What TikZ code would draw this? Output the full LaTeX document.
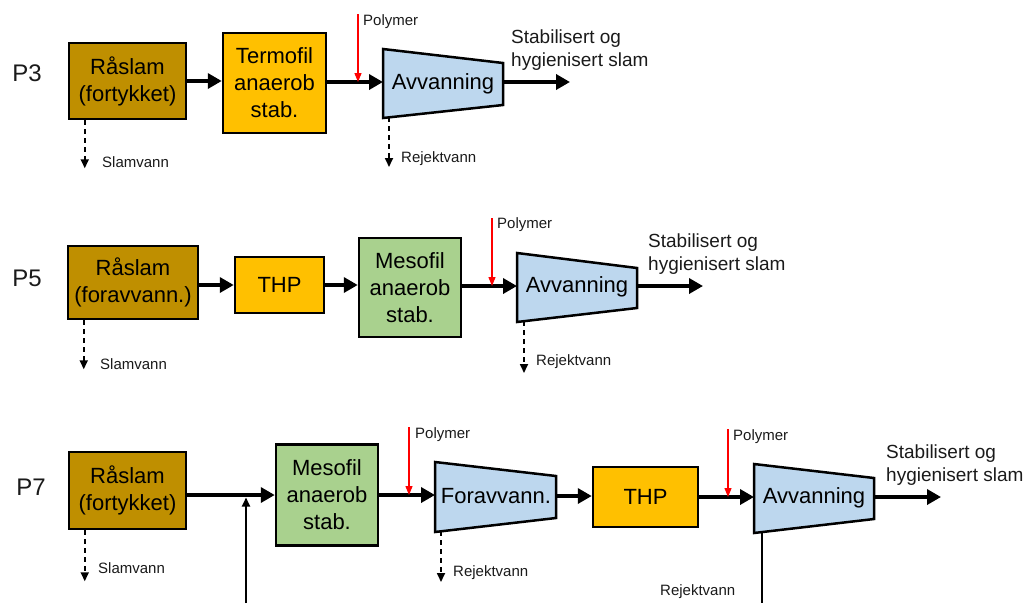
\documentclass[tikz,border=0pt]{standalone}
\usepackage{fontspec}
\setmainfont{Liberation Sans}
\usetikzlibrary{arrows.meta}
\definecolor{raw}{HTML}{BF8F00}
\definecolor{gold}{HTML}{FFC000}
\definecolor{meso}{HTML}{A9D18E}
\definecolor{dew}{HTML}{BDD7EE}
\definecolor{txt}{HTML}{1A1A1A}
\tikzset{
  procbox/.style={draw=black, line width=2.5pt, inner sep=0pt, align=center,
    font=\fontsize{22}{27}\selectfont, text=black},
  rawbox/.style={procbox, fill=raw},
  goldbox/.style={procbox, fill=gold},
  mesobox/.style={procbox, fill=meso},
  trap/.style={draw=black, line width=2.5pt, fill=dew, line join=miter},
  traptext/.style={font=\fontsize{22}{27}\selectfont, inner sep=0pt},
  flow/.style={line width=4.5pt, -{Triangle[length=14pt,width=15pt]}},
  poly/.style={red, line width=1.3pt, -{Triangle[length=9pt,width=7pt]}},
  drain/.style={black, line width=1.7pt, dash pattern=on 5pt off 4pt, -{Triangle[length=9pt,width=8pt]}},
  small/.style={font=\fontsize{15}{18}\selectfont, text=txt, inner sep=0pt, anchor=west},
  outlab/.style={font=\fontsize{19}{23}\selectfont, text=txt, inner sep=0pt, anchor=west, align=left},
  rowlab/.style={font=\fontsize{24}{28}\selectfont, text=txt, inner sep=0pt},
  uparrow/.style={line width=2pt, -{Triangle[length=9pt,width=8pt]}},
}
\begin{document}
\begin{tikzpicture}[x=1pt,y=-1pt]
\useasboundingbox (0,0) rectangle (1027,603);

% ---------------- P3 ----------------
\node[rowlab] (p3) at (27,73) {P3};
\node[rawbox, minimum width=117pt, minimum height=76pt] (ra3) at (127.5,81) {Råslam\\(fortykket)};
\node[goldbox, minimum width=103pt, minimum height=100pt] (te3) at (274.5,83) {Termofil\\anaerob\\stab.};
\draw[trap] (383,49) -- (503,63) -- (503,105) -- (383,118) -- cycle;
\node[traptext] (av3) at (443,84) {Avvanning};
\coordinate (av3w) at (383,82);
\coordinate (av3e) at (503,82);
\coordinate (av3s) at (389,117);
\coordinate (out3) at (570,82);
\coordinate (pol3) at (358,14);
\draw[flow] (ra3.east) -- (ra3.east -| te3.west);
\draw[flow] (te3.east |- av3w) -- (av3w);
\draw[flow] (av3e) -- (out3);
\draw[poly] (pol3) -- (pol3 |- av3w);
\node[small] (pl3) at (363,22) {Polymer};
\node[outlab] (st3) at (511,50) {Stabilisert og\\hygienisert slam};
\coordinate (sv3) at ([xshift=17pt]ra3.south west);
\draw[drain] (sv3) -- ++(0,48);
\node[small] (slv3) at (102,162) {Slamvann};
\draw[drain] (av3s) -- ++(0,50);
\node[small] (rj3) at (401,159) {Rejektvann};

% ---------------- P5 ----------------
\node[rowlab] (p5) at (27,278) {P5};
\node[rawbox, minimum width=130pt, minimum height=73pt] (ra5) at (133,282.5) {Råslam\\(foravvann.)};
\node[goldbox, minimum width=89pt, minimum height=56pt] (th5) at (279.5,285) {THP};
\node[mesobox, minimum width=102pt, minimum height=99pt] (me5) at (410,287.5) {Mesofil\\anaerob\\stab.};
\draw[trap] (517,253) -- (637,268) -- (637,308) -- (517,322) -- cycle;
\node[traptext] (av5) at (577,287) {Avvanning};
\coordinate (av5w) at (517,286);
\coordinate (av5e) at (637,286);
\coordinate (av5s) at (524,321);
\coordinate (out5) at (703,286);
\coordinate (pol5) at (492,218);
\draw[flow] (th5.west -| ra5.east) -- (th5.west);
\draw[flow] (th5.east) -- (th5.east -| me5.west);
\draw[flow] (me5.east |- av5w) -- (av5w);
\draw[flow] (av5e) -- (out5);
\draw[poly] (pol5) -- (pol5 |- av5w);
\node[small] (pl5) at (497,225) {Polymer};
\node[outlab] (st5) at (648,254) {Stabilisert og\\hygienisert slam};
\coordinate (sv5) at ([xshift=17pt]ra5.south west);
\draw[drain] (sv5) -- ++(0,49);
\node[small] (slv5) at (100,364) {Slamvann};
\draw[drain] (av5s) -- ++(0,52);
\node[small] (rj5) at (536,362) {Rejektvann};

% ---------------- P7 ----------------
\node[rowlab] (p7) at (31,487) {P7};
\node[rawbox, minimum width=117pt, minimum height=77pt] (ra7) at (127.5,490.5) {Råslam\\(fortykket)};
\node[mesobox, minimum width=102pt, minimum height=101pt] (me7) at (327,495) {Mesofil\\anaerob\\stab.};
\draw[trap] (435,462) -- (556,476) -- (556,518) -- (435,532) -- cycle;
\node[traptext] (fo7) at (496,496) {Foravvann.};
\node[goldbox, minimum width=105pt, minimum height=60pt] (th7) at (645.5,497) {THP};
\draw[trap] (754,464) -- (874,478) -- (874,519) -- (754,533) -- cycle;
\node[traptext] (av7) at (814,498) {Avvanning};
\coordinate (fo7w) at (435,495);
\coordinate (fo7e) at (556,496);
\coordinate (fo7s) at (441,531);
\coordinate (av7w) at (754,497);
\coordinate (av7e) at (874,497);
\coordinate (av7s) at (762,532);
\coordinate (out7) at (941,497);
\coordinate (pol7a) at (409,427);
\coordinate (pol7b) at (728,429);
\coordinate (rec7) at (246,603);
\coordinate (rj7end) at (762,603);
\draw[flow] (me7.west -| ra7.east) -- (me7.west);
\draw[uparrow] (rec7) -- ([yshift=-2.5pt]rec7 |- me7.west);
\draw[flow] (me7.east |- fo7w) -- (fo7w);
\draw[poly] (pol7a) -- (pol7a |- fo7w);
\node[small] (pl7a) at (415,435) {Polymer};
\draw[drain] (fo7s) -- ++(0,51);
\node[small] (rj7a) at (453,573) {Rejektvann};
\draw[flow] (fo7e) -- (fo7e -| th7.west);
\draw[flow] (th7.east) -- (th7.east -| av7w);
\draw[poly] (pol7b) -- (pol7b |- av7w);
\node[small] (pl7b) at (733,437) {Polymer};
\draw[flow] (av7e) -- (out7);
\node[outlab] (st7) at (886,465) {Stabilisert og\\hygienisert slam};
\draw[line width=2pt] (av7s) -- (rj7end);
\node[small] (rj7b) at (660,592) {Rejektvann};
\coordinate (sv7) at ([xshift=17pt]ra7.south west);
\draw[drain] (sv7) -- ++(0,51);
\node[small] (slv7) at (98,568) {Slamvann};
\end{tikzpicture}
\end{document}
